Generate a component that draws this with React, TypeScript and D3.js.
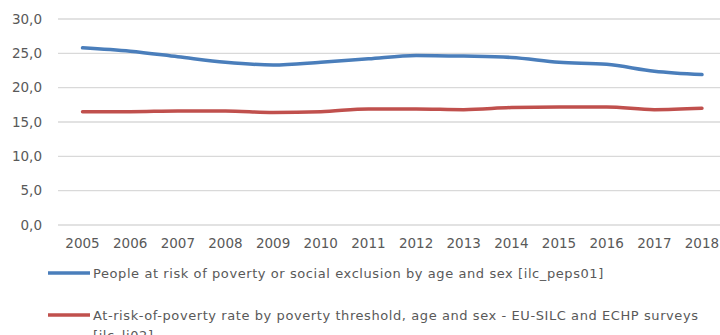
import React from "react";
import * as d3 from "d3";

const years = ["2005","2006","2007","2008","2009","2010","2011","2012","2013","2014","2015","2016","2017","2018"];
const peps01 = [25.8, 25.3, 24.5, 23.7, 23.3, 23.7, 24.2, 24.7, 24.6, 24.4, 23.7, 23.4, 22.4, 21.9];
const li02 = [16.5, 16.5, 16.6, 16.6, 16.4, 16.5, 16.9, 16.9, 16.8, 17.1, 17.2, 17.2, 16.8, 17.0];
const yTicks = [0, 5, 10, 15, 20, 25, 30];
const seriesNames = [
  "People at risk of poverty or social exclusion by age and sex [ilc_peps01]",
  "At-risk-of-poverty rate by poverty threshold, age and sex - EU-SILC and ECHP surveys",
];
const seriesNameCont = "[ilc_li02]";

export default function App() {
  const W = 720, H = 335;
  const x = d3.scaleBand<string>().domain(years).range([58.7, 725.8]);
  const cx = (d: string) => (x(d) as number) + x.bandwidth() / 2;
  const y = d3.scaleLinear().domain([0, 30]).range([225, 19]);
  const fmt = (v: number) => d3.format(".1f")(v).replace(".", ",");
  const line = d3.line<number>().x((_, i) => cx(years[i])).y((v) => y(v)).curve(d3.curveMonotoneX);
  const series = [
    { data: peps01, color: "#4a7ebb" },
    { data: li02, color: "#c0504d" },
  ];
  const textColor = "#595959";
  return (
    <svg width={W} height={H} style={{ position: "absolute", left: 0, top: 0, background: "#fff" }}>
      {yTicks.map((t) => (
        <g key={t}>
          <line x1={58} x2={W} y1={y(t)} y2={y(t)} stroke="#d9d9d9" strokeWidth={1.3} />
          <text x={42} y={y(t)} dy="0.35em" textAnchor="end" fontFamily="DejaVu Sans" fontSize={13.5} fill={textColor}>
            {fmt(t)}
          </text>
        </g>
      ))}
      {years.map((yr) => (
        <text key={yr} x={cx(yr)} y={248} textAnchor="middle" fontFamily="DejaVu Sans" fontSize={13.5} fill={textColor}>
          {yr}
        </text>
      ))}
      {series.map((s, i) => (
        <path key={i} d={line(s.data) as string} fill="none" stroke={s.color} strokeWidth={3.5} strokeLinejoin="round" strokeLinecap="round" />
      ))}
      {seriesNames.map((n, i) => {
        const ly = i === 0 ? 273 : 315;
        return (
          <g key={n}>
            <line x1={48} x2={90} y1={ly} y2={ly} stroke={series[i].color} strokeWidth={3.5} />
            <text x={93} y={ly + 5} fontFamily="DejaVu Sans" fontSize={13} letterSpacing={0.58} fill={textColor}>{n}</text>
          </g>
        );
      })}
      <text x={93} y={315 + 25} fontFamily="DejaVu Sans" fontSize={13} letterSpacing={0.58} fill={textColor}>{seriesNameCont}</text>
    </svg>
  );
}
